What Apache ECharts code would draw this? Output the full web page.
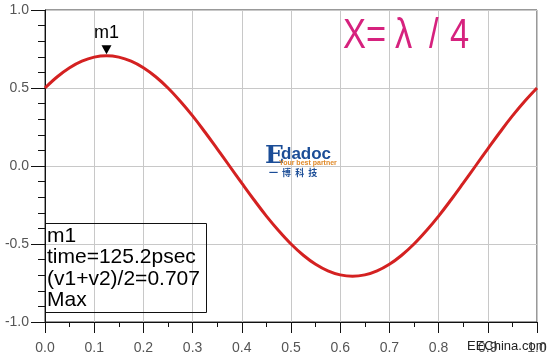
<!DOCTYPE html>
<html>
<head>
<meta charset="utf-8">
<script src="https://cdn.jsdelivr.net/npm/echarts@6/dist/echarts.min.js"></script>
<style>
html, body { margin: 0; padding: 0; background: #fff; }
#chart { width: 550px; height: 361px; }
</style>
</head>
<body>
<div id="chart"></div>
<script>
// 曲线数据 (time, (v1+v2)/2)
var timeVals = [0, 0.025, 0.05, 0.075, 0.1, 0.125, 0.15, 0.175, 0.2, 0.225,
	0.25, 0.275, 0.3, 0.325, 0.35, 0.375, 0.4, 0.425, 0.45, 0.475,
	0.5, 0.525, 0.55, 0.575, 0.6, 0.625, 0.65, 0.675, 0.7, 0.725,
	0.75, 0.775, 0.8, 0.825, 0.85, 0.875, 0.9, 0.925, 0.95, 0.975, 1.0];
var voltVals = [0.50, 0.572, 0.630, 0.672, 0.698, 0.707, 0.698, 0.672, 0.630, 0.572,
	0.50, 0.415, 0.321, 0.218, 0.11, 0.00, -0.11, -0.218, -0.321, -0.415,
	-0.50, -0.572, -0.630, -0.672, -0.698, -0.707, -0.698, -0.672, -0.630, -0.572,
	-0.50, -0.415, -0.321, -0.218, -0.11, 0.00, 0.11, 0.218, 0.321, 0.415, 0.50];
var markerPos = [0.125, 0.707];
var markerLines = ["m1", "time=125.2psec", "(v1+v2)/2=0.707", "Max"];
var titleParts = ["X=", "\u03bb", "/", "4"];

var myChart = echarts.init(document.getElementById("chart"));

var seriesData = timeVals.map(function(t, i) { return [t, voltVals[i]]; });

var font = "Liberation Sans, Arial, sans-serif";
var titleX = [343, 395, 429, 450];

var option = {
	animation: false,
	grid: {
		left: 45,
		right: 13,
		top: 10,
		bottom: 39,
		show: true,
		borderColor: '#333',
		borderWidth: 1,
		backgroundColor: '#fff'
	},
	xAxis: {
		type: 'value',
		min: 0,
		max: 1,
		interval: 0.1,
		axisLine: { show: true, onZero: false, lineStyle: { color: '#111', width: 1 } },
		axisTick: { show: true, inside: false, length: 11, lineStyle: { color: '#111' } },
		minorTick: { show: true, splitNumber: 2, length: 5, lineStyle: { color: '#111' } },
		splitLine: { show: true, lineStyle: { color: '#c8c8c8', width: 1 } },
		axisLabel: {
			margin: 19,
			color: '#555',
			fontSize: 14,
			fontFamily: font,
			formatter: function(v) { return v.toFixed(1); }
		}
	},
	yAxis: {
		type: 'value',
		min: -1,
		max: 1,
		interval: 0.5,
		axisLine: { show: true, onZero: false, lineStyle: { color: '#111', width: 1 } },
		axisTick: { show: true, inside: false, length: 14, lineStyle: { color: '#111' } },
		minorTick: { show: true, splitNumber: 5, length: 7, lineStyle: { color: '#111' } },
		splitLine: { show: true, lineStyle: { color: '#c8c8c8', width: 1 } },
		axisLabel: {
			margin: 16,
			color: '#555',
			fontSize: 14,
			fontFamily: font,
			formatter: function(v) { return v.toFixed(1); }
		}
	},
	series: [{
		type: 'line',
		data: seriesData,
		smooth: 0.4,
		showSymbol: false,
		lineStyle: { color: '#d42121', width: 3 },
		markPoint: {
			silent: true,
			data: [{
				coord: markerPos,
				symbol: 'triangle',
				symbolRotate: 180,
				symbolSize: [10, 9],
				symbolOffset: [0, -6],
				itemStyle: { color: '#000' },
				label: {
					show: true,
					position: 'top',
					distance: 3,
					formatter: 'm1',
					color: '#000',
					fontSize: 18,
					fontFamily: font
				}
			}]
		}
	}],
	graphic: [
		// marker readout box
		{
			type: 'rect',
			shape: { x: 45.5, y: 223.5, width: 161, height: 89 },
			style: { fill: 'none', stroke: '#111', lineWidth: 1 },
			z: 10
		},
		{
			type: 'text',
			x: 47,
			y: 225,
			z: 11,
			style: {
				text: markerLines.join('\n'),
				fill: '#000',
				font: '21px ' + font,
				lineHeight: 21.5
			}
		},
		// logo
		{
			type: 'text', x: 265, y: 144, z: 5,
			style: { text: 'E', fill: '#1b4d97', font: 'bold 25px "DejaVu Serif", serif' }
		},
		{
			type: 'text', x: 281, y: 146, z: 5,
			style: { text: 'dadoc', fill: '#1b4d97', font: 'bold 17px ' + font }
		},
		{
			type: 'text', x: 279, y: 160, z: 6,
			style: { text: 'Your best partner', fill: '#e08a2a', font: 'bold 7px ' + font }
		},
		{
			type: 'text', x: 269, y: 168, z: 5,
			style: { text: '一  博  科  技', fill: '#1b4d97', font: 'bold 9px "Noto Sans CJK SC", sans-serif' }
		},
		// watermark
		{
			type: 'text', x: 467, y: 340, z: 20,
			style: { text: 'EEChina.com', fill: '#222', font: '13px ' + font }
		}
	].concat(titleParts.map(function(s, i) {
		return {
			type: 'text', x: titleX[i], y: 57, z: 5, scaleX: 0.82,
			style: { text: s, fill: '#d6227e', font: '42px ' + font, verticalAlign: 'bottom' }
		};
	}))
};

myChart.setOption(option);
</script>
</body>
</html>
